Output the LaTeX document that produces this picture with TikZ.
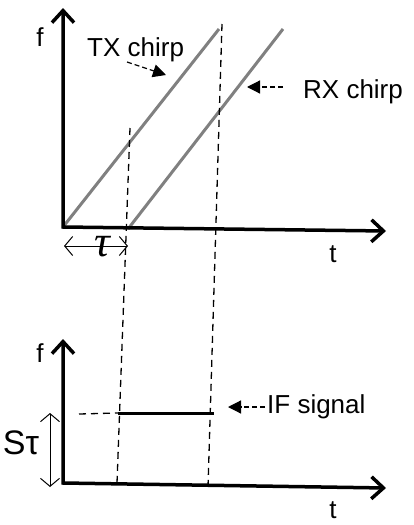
\documentclass[tikz,border=0pt]{standalone}
\usepackage{fontspec}
\setmainfont{Liberation Sans}
\newfontfamily\taufont{Liberation Serif}
\usetikzlibrary{arrows.meta}

\begin{document}
\begin{tikzpicture}[x=1pt, y=-1pt, line join=miter,
	axis/.style={line width=3.5pt, {Straight Barb[length=12pt, width=22pt, line width=3.5pt]}-{Straight Barb[length=12pt, width=22pt, line width=3.5pt]}},
	chirp/.style={gray, line width=3pt},
	guide/.style={line width=1.3pt, dash pattern=on 7pt off 5pt},
	note/.style={line width=1.2pt, dash pattern=on 5pt off 3pt, -{Triangle[length=13pt, width=13pt]}},
	span/.style={line width=1pt, {Straight Barb[length=8pt, width=19pt]}-{Straight Barb[length=8pt, width=19pt]}},
	lbl/.style={font=\fontsize{26}{30}\selectfont, inner sep=0pt}]
	\useasboundingbox (0,0) rectangle (413,525);
	% upper plot
	\coordinate (f1) at (63,8);
	\coordinate (o1) at (63,227);
	\coordinate (t1) at (386,231);
	\coordinate (tx0) at (63,227);
	\coordinate (tx1) at (219,29);
	\coordinate (rx0) at (128,229);
	\coordinate (rx1) at (283,29);
	\draw[chirp] (tx0) -- (tx1);
	\draw[chirp] (rx0) -- (rx1);
	\draw[axis] (f1) -- (o1) -- (t1);
	\node[lbl] (f1lbl) at (40,37) {f};
	\node[lbl] (t1lbl) at (333,254) {t};
	\node[lbl, anchor=west] (txlbl) at (87,50) {TX chirp};
	\node[lbl, anchor=west] (rxlbl) at (303,92) {RX chirp};
	\coordinate (txa) at (127,62);
	\coordinate (txb) at (166,75);
	\coordinate (rxa) at (283,87);
	\coordinate (rxb) at (247,87);
	\draw[note] (txa) -- (txb);
	\draw[note] (rxa) -- (rxb);
	\coordinate (tau0) at (64,246);
	\coordinate (tau1) at (128,246);
	\draw[span] (tau0) -- (tau1);
	\node[inner sep=0pt, font=\taufont\itshape\fontsize{44}{48}\selectfont] (taulbl) at (102,247) {τ};
	% lower plot
	\coordinate (f2) at (63,339);
	\coordinate (o2) at (63,483);
	\coordinate (t2) at (386,488);
	\coordinate (if0) at (118,413);
	\coordinate (if1) at (214,413);
	\coordinate (lvl) at (79,414);
	\draw[axis] (f2) -- (o2) -- (t2);
	\draw[line width=3pt] (if0) -- (if1);
	\draw[guide] (lvl) -- (if0);
	\node[lbl] (f2lbl) at (40,353) {f};
	\node[lbl] (t2lbl) at (333,510) {t};
	\node[lbl, anchor=west] (iflbl) at (267,407) {IF signal};
	\coordinate (ifa) at (265,407);
	\coordinate (ifb) at (228,407);
	\draw[note] (ifa) -- (ifb);
	\coordinate (st0) at (50,413);
	\coordinate (st1) at (50,487);
	\draw[span] (st0) -- (st1);
	\node[inner sep=0pt, font=\fontsize{34}{38}\selectfont] (stlbl) at (21,443) {Sτ};
	% guides across both plots
	\coordinate (g1a) at (130,128);
	\coordinate (g1b) at (117,483);
	\coordinate (g2a) at (222,24);
	\coordinate (g2b) at (208,487);
	\draw[guide] (g1a) -- (g1b);
	\draw[guide] (g2a) -- (g2b);
\end{tikzpicture}
\end{document}
